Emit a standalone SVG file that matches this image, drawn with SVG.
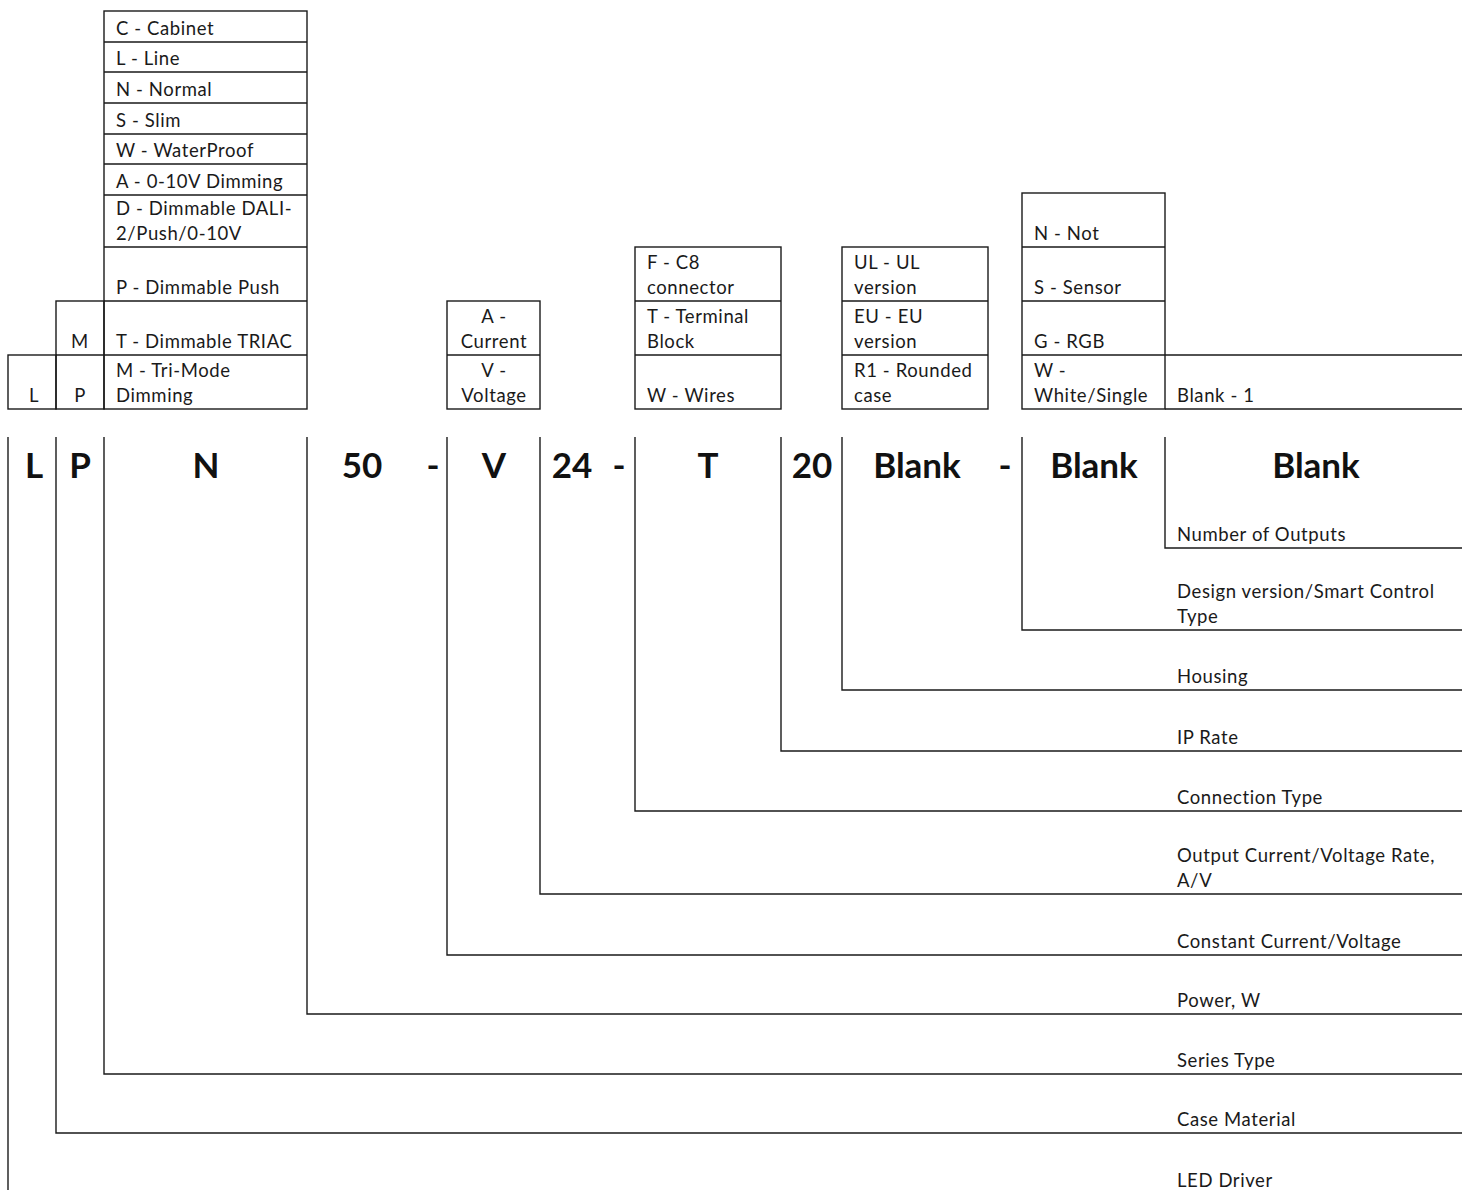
<svg xmlns="http://www.w3.org/2000/svg" width="1462" height="1190" viewBox="0 0 1462 1190">
<style>
.b{fill:none;stroke:#1a1a1a;stroke-width:1.4}
.t{font-family:Lato,"Open Sans",sans-serif;font-size:18.5px;letter-spacing:0.6px;fill:#1a1a1a}
.c{text-anchor:middle}
.big{font-family:Lato,"Open Sans",sans-serif;font-size:35px;font-weight:bold;fill:#111;text-anchor:middle}
</style>
<rect width="1462" height="1190" fill="#fff"/>
<g id="series-options">
<rect class="b" x="104" y="11" width="203" height="398"/>
<path class="b" d="M104 42H307M104 72H307M104 103H307M104 134H307M104 164H307M104 195H307M104 247H307M104 301H307M104 355H307"/>
<text class="t" x="116" y="35">C - Cabinet</text>
<text class="t" x="116" y="65">L - Line</text>
<text class="t" x="116" y="96">N - Normal</text>
<text class="t" x="116" y="127">S - Slim</text>
<text class="t" x="116" y="157">W - WaterProof</text>
<text class="t" x="116" y="188">A - 0-10V Dimming</text>
<text class="t" x="116" y="215">D - Dimmable DALI-</text>
<text class="t" x="116" y="240">2/Push/0-10V</text>
<text class="t" x="116" y="294">P - Dimmable Push</text>
<text class="t" x="116" y="348">T - Dimmable TRIAC</text>
<text class="t" x="116" y="377">M - Tri-Mode</text>
<text class="t" x="116" y="402">Dimming</text>
</g>
<g id="case-options">
<rect class="b" x="56" y="301" width="48" height="108"/>
<path class="b" d="M56 355H104"/>
<text class="t c" x="80" y="348">M</text>
<text class="t c" x="80" y="402">P</text>
</g>
<g id="driver-option">
<rect class="b" x="8" y="355" width="48" height="54"/>
<text class="t c" x="34" y="402">L</text>
</g>
<g id="cc-cv-options">
<rect class="b" x="447" y="301" width="93" height="108"/>
<path class="b" d="M447 355H540"/>
<text class="t c" x="494" y="323">A -</text>
<text class="t c" x="494" y="348">Current</text>
<text class="t c" x="494" y="377">V -</text>
<text class="t c" x="494" y="402">Voltage</text>
</g>
<g id="connection-options">
<rect class="b" x="635" y="247" width="146" height="162"/>
<path class="b" d="M635 301H781M635 355H781"/>
<text class="t" x="647" y="269">F - C8</text>
<text class="t" x="647" y="294">connector</text>
<text class="t" x="647" y="323">T - Terminal</text>
<text class="t" x="647" y="348">Block</text>
<text class="t" x="647" y="402">W - Wires</text>
</g>
<g id="housing-options">
<rect class="b" x="842" y="247" width="146" height="162"/>
<path class="b" d="M842 301H988M842 355H988"/>
<text class="t" x="854" y="269">UL - UL</text>
<text class="t" x="854" y="294">version</text>
<text class="t" x="854" y="323">EU - EU</text>
<text class="t" x="854" y="348">version</text>
<text class="t" x="854" y="377">R1 - Rounded</text>
<text class="t" x="854" y="402">case</text>
</g>
<g id="design-options">
<rect class="b" x="1022" y="193" width="143" height="216"/>
<path class="b" d="M1022 247H1165M1022 301H1165M1022 355H1165"/>
<text class="t" x="1034" y="240">N - Not</text>
<text class="t" x="1034" y="294">S - Sensor</text>
<text class="t" x="1034" y="348">G - RGB</text>
<text class="t" x="1034" y="377">W -</text>
<text class="t" x="1034" y="402">White/Single</text>
</g>
<g id="outputs-option">
<path class="b" d="M1165 355H1462M1165 409H1462"/>
<text class="t" x="1177" y="402">Blank - 1</text>
</g>
<g id="code">
<text class="big" x="34" y="478">L</text>
<text class="big" x="80" y="478">P</text>
<text class="big" x="206" y="478">N</text>
<text class="big" x="362" y="478">50</text>
<text class="big" x="433" y="478">-</text>
<text class="big" x="494" y="478">V</text>
<text class="big" x="572" y="478">24</text>
<text class="big" x="619" y="478">-</text>
<text class="big" x="708" y="478">T</text>
<text class="big" x="812" y="478">20</text>
<text class="big" x="917" y="478">Blank</text>
<text class="big" x="1005" y="478">-</text>
<text class="big" x="1094" y="478">Blank</text>
<text class="big" x="1316" y="478">Blank</text>
</g>
<g id="connectors">
<path class="b" d="M1165 437V548H1462"/>
<path class="b" d="M1022 437V630H1462"/>
<path class="b" d="M842 437V690H1462"/>
<path class="b" d="M781 437V751H1462"/>
<path class="b" d="M635 437V811H1462"/>
<path class="b" d="M540 437V894H1462"/>
<path class="b" d="M447 437V955H1462"/>
<path class="b" d="M307 437V1014H1462"/>
<path class="b" d="M104 437V1074H1462"/>
<path class="b" d="M56 437V1133H1462"/>
<path class="b" d="M8 437V1190"/>
</g>
<g id="labels">
<text class="t" x="1177" y="541">Number of Outputs</text>
<text class="t" x="1177" y="598">Design version/Smart Control</text>
<text class="t" x="1177" y="623">Type</text>
<text class="t" x="1177" y="683">Housing</text>
<text class="t" x="1177" y="744">IP Rate</text>
<text class="t" x="1177" y="804">Connection Type</text>
<text class="t" x="1177" y="862">Output Current/Voltage Rate,</text>
<text class="t" x="1177" y="887">A/V</text>
<text class="t" x="1177" y="948">Constant Current/Voltage</text>
<text class="t" x="1177" y="1007">Power, W</text>
<text class="t" x="1177" y="1067">Series Type</text>
<text class="t" x="1177" y="1126">Case Material</text>
<text class="t" x="1177" y="1187">LED Driver</text>
</g>
</svg>
